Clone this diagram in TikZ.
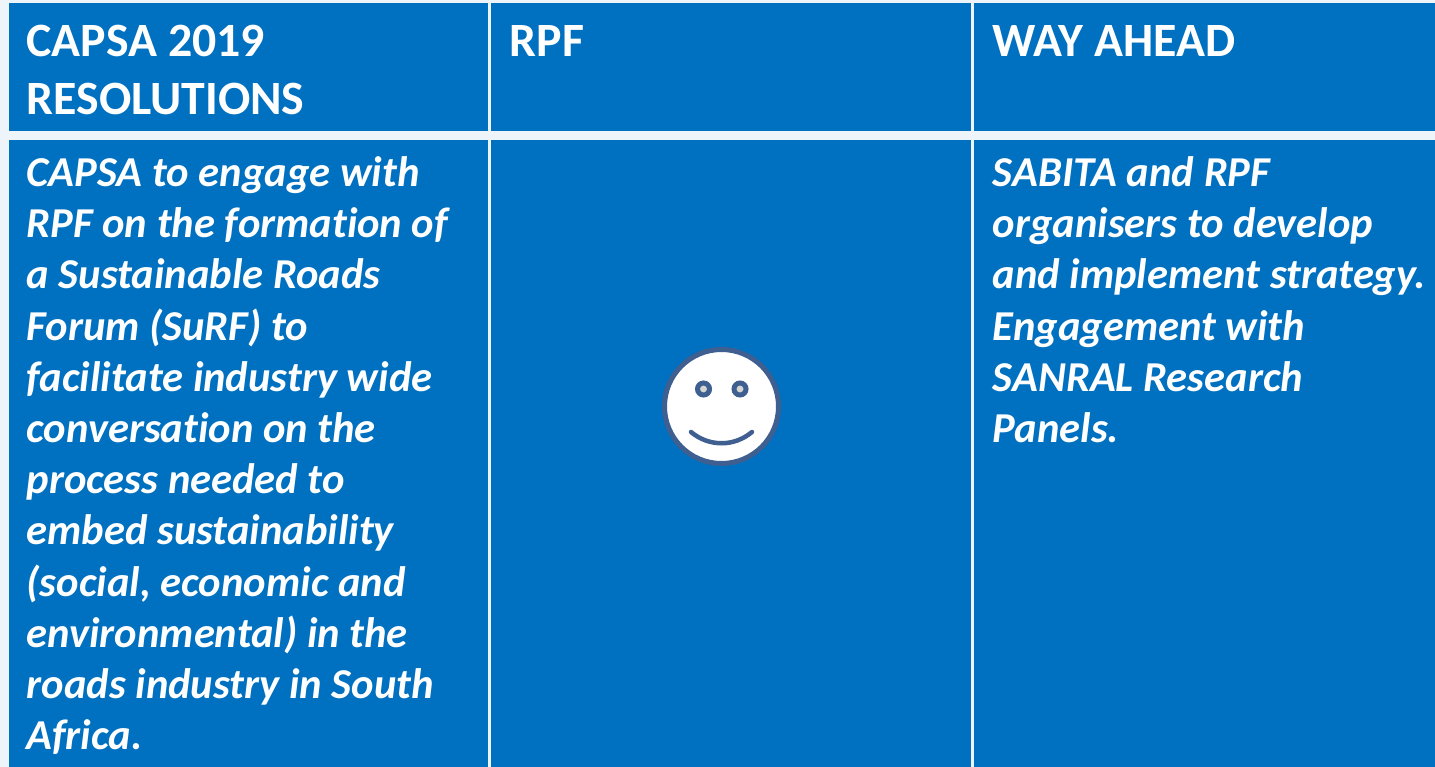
\documentclass[tikz,border=0pt]{standalone}
\usepackage{fontspec}
\setmainfont[Ligatures=CommonOff]{Carlito}
\definecolor{cellblue}{HTML}{0070C0}
\definecolor{facering}{HTML}{3E5F8F}
\definecolor{eyefill}{HTML}{D4D4D0}
\tikzset{
  cell/.style={fill=cellblue,draw=none},
  headtext/.style={anchor=north west,inner sep=0pt,align=left,text=white,font=\fontsize{47.8}{58}\selectfont\bfseries},
  bodytext/.style={anchor=north west,inner sep=0pt,align=left,text=white,font=\fontsize{42.6}{51.2}\selectfont\bfseries\itshape},
}
\begin{document}
\begin{tikzpicture}[x=1pt,y=-1pt]
\useasboundingbox (0,0) rectangle (1435,767);
\fill[white!93!cellblue] (0,0) rectangle (1435,767);
\fill[cell] (8.5,3) rectangle (488,131);
\fill[cell] (491,3) rectangle (971,131);
\fill[cell] (974,3) rectangle (1435,131);
\fill[cell] (8.5,140) rectangle (488,767);
\fill[cell] (491,140) rectangle (971,767);
\fill[cell] (974,140) rectangle (1435,767);
\node[headtext] (h1) at (26.5,25) {CAPSA 2019\\RESOLUTIONS};
\node[headtext] (h2) at (509.5,25) {RPF};
\node[headtext] (h3) at (992.5,25) {WAY AHEAD};
\node[bodytext] (b1) at (26.5,156.5) {CAPSA to engage with\\RPF on the formation of\\a Sustainable Roads\\Forum (SuRF) to\\facilitate industry wide\\conversation on the\\process needed to\\embed sustainability\\(social, economic and\\environmental) in the\\roads industry in South\\Africa.};
\node[bodytext] (b3) at (992.5,156.5) {SABITA and RPF\\organisers to develop\\and implement strategy.\\Engagement with\\SANRAL Research\\Panels.};
% smiley
\draw[facering,line width=5pt,fill=white] (721.5,406.5) circle (57);
\draw[facering,line width=5pt,fill=eyefill] (703.5,389) circle (6);
\draw[facering,line width=5pt,fill=eyefill] (740,389) circle (6);
\draw[facering,line width=4.5pt,line cap=round] (691,432) .. controls (709,447) and (734,447) .. (752,432);
\end{tikzpicture}
\end{document}
